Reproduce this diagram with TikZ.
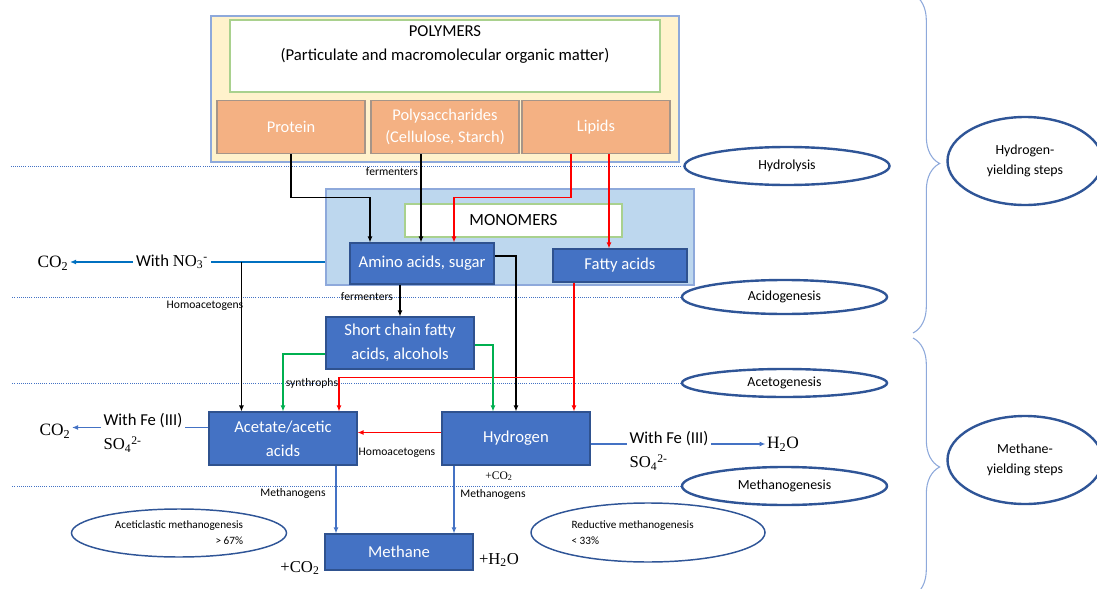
\documentclass[tikz,border=0pt]{standalone}
\usepackage{fontspec}
\setmainfont{Carlito}
\newfontfamily\chemfont{Liberation Serif}
\usetikzlibrary{shapes.geometric,arrows.meta,calc,decorations.pathreplacing}
\definecolor{polyfill}{HTML}{FFF2CC}
\definecolor{edgeblue}{HTML}{8EA9DB}
\definecolor{leafgreen}{HTML}{A9D18E}
\definecolor{tanfill}{HTML}{F4B183}
\definecolor{tanedge}{HTML}{A69588}
\definecolor{monofill}{HTML}{BDD7EE}
\definecolor{procfill}{HTML}{4472C4}
\definecolor{procedge}{HTML}{2F528F}
\definecolor{ovalblue}{HTML}{2F5597}
\definecolor{lineblue}{HTML}{4472C4}
\definecolor{nitroblue}{HTML}{0070C0}
\definecolor{arrred}{HTML}{FF0000}
\definecolor{arrgreen}{HTML}{00B050}
\tikzset{
  polybox/.style   = {draw=edgeblue, fill=polyfill, line width=0.8pt, inner sep=0pt},
  titlebox/.style  = {draw=leafgreen, fill=white, line width=0.8pt, inner sep=0pt},
  tanbox/.style    = {draw=tanedge, fill=tanfill, text=white, line width=0.8pt,
                      font=\fontsize{12.3}{17}\selectfont, align=center, inner sep=0pt,
                      minimum width=111pt, minimum height=39.75pt},
  monobox/.style   = {draw=edgeblue, fill=monofill, line width=0.8pt, inner sep=0pt},
  procbox/.style   = {draw=procedge, fill=procfill, text=white, line width=0.8pt,
                      font=\fontsize{12.5}{18}\selectfont, align=center, inner sep=0pt},
  stagenode/.style = {ellipse, draw=ovalblue, line width=1.8pt, inner sep=0pt,
                      minimum width=153.75pt, font=\fontsize{10.4}{15}\selectfont},
  yieldnode/.style = {stagenode, minimum width=116.25pt, minimum height=66pt, align=center},
  methnode/.style  = {ellipse, draw=ovalblue, line width=1.1pt, inner sep=0pt},
  note/.style      = {font=\fontsize{8.7}{12}\selectfont, inner sep=1pt},
  chem/.style      = {font=\chemfont\fontsize{13}{16}\selectfont, inner sep=1pt},
  withtext/.style  = {font=\fontsize{12.5}{18}\selectfont, align=left, inner sep=2pt},
  guide/.style     = {draw=lineblue, densely dotted, line width=0.6pt},
  stagebrace/.style= {draw=edgeblue, line width=0.8pt, decorate,
                      decoration={brace, amplitude=20pt}},
  tip/.style       = {-{Latex[length=4.5pt,width=3.75pt]}},
  blk/.style       = {tip, draw=black, line width=1.1pt},
  redarr/.style    = {tip, draw=arrred, line width=1.1pt},
  grnarr/.style    = {tip, draw=arrgreen, line width=1.1pt},
  bluarr/.style    = {tip, draw=lineblue, line width=0.9pt},
  bluline/.style   = {draw=lineblue, line width=0.9pt},
  nitro/.style     = {draw=nitroblue, line width=0.9pt}
}

\begin{document}
\begin{tikzpicture}[x=0.75pt,y=-0.75pt]
  \useasboundingbox (0,0) rectangle (1097,589);
  \clip (0,0) rectangle (1097,589);

  % stage ellipses and guide lines
  \node[stagenode, minimum height=28.5pt] (hydrolysis)  at (787,166)   {Hydrolysis};
  \node[stagenode, minimum height=25.5pt] (acidogen)    at (784.5,297) {Acidogenesis};
  \node[stagenode, minimum height=21pt]   (acetogen)    at (784.5,383) {Acetogenesis};
  \node[stagenode, minimum height=28.5pt] (methanogen)  at (784.5,486) {Methanogenesis};
  \draw[guide] (hydrolysis.west) -- ++(-674,0);
  \draw[guide] (acidogen.west) -- ++(-669,0);
  \draw[guide] (acetogen.west) -- ++(-669,0);
  \draw[guide] (methanogen.west) -- ++(-669,0);

  \node[yieldnode] (hyield) at (1025,161) {Hydrogen-\\yielding steps};
  \node[yieldnode] (myield) at (1025,460) {Methane-\\yielding steps};
  \draw[stagebrace] (913,-6) -- (913,333);
  \draw[stagebrace] (913,338) -- (913,596);

  % polymers
  \node[polybox, minimum width=351pt, minimum height=109.5pt] (polyouter) at (445,89) {};
  \node[titlebox, minimum width=322.5pt, minimum height=54pt] (polytitle) at (445,56) {};
  \node[align=center, font=\fontsize{12.5}{18.5}\selectfont] (polyname) at (445,44.5)
    {POLYMERS\\(Particulate and macromolecular organic matter)};
  \node[tanbox] (protein) at (291,127) {Protein};
  \node[tanbox] (polysac) at (445,127) {Polysaccharides\\(Cellulose, Starch)};
  \node[tanbox] (lipids)  at (596,127) {Lipids};

  % monomers
  \node[monobox, minimum width=276pt, minimum height=72pt] (monoouter) at (510,237) {};
  \node[titlebox, minimum width=162.75pt, minimum height=24.75pt,
        font=\fontsize{12.8}{14}\selectfont] (monotitle) at (513.5,220.5) {MONOMERS};
  \node[procbox, minimum width=108pt, minimum height=30.75pt] (amino) at (422,263.5) {Amino acids, sugar};
  \node[procbox, minimum width=100.5pt, minimum height=24.75pt] (fatty) at (620,265.5) {Fatty acids};

  % intermediates and products
  \node[procbox, minimum width=111pt, minimum height=39pt] (shortchain) at (400,343)
    {Short chain fatty\\acids, alcohols};
  \node[procbox, minimum width=111pt, minimum height=39.75pt] (acetate) at (283,438.5)
    {Acetate/acetic\\acids};
  \node[procbox, minimum width=111pt, minimum height=39.75pt] (hydrogen) at (516,438.5) {Hydrogen};
  \node[procbox, minimum width=111pt, minimum height=27pt] (methane) at (399,552) {Methane};

  % side texts
  \node[chem] (co2a) at (53,263) {CO\textsubscript{2}};
  \node[withtext] (withno) at (172,262) {With {\chemfont NO\textsubscript{3}\textsuperscript{-}}};
  \node[chem] (co2b) at (55,431) {CO\textsubscript{2}};
  \node[withtext] (fea) at (143,433) {With Fe (III)\\{\chemfont SO\textsubscript{4}\textsuperscript{2-}}};
  \node[withtext] (feb) at (669,451) {With Fe (III)\\{\chemfont SO\textsubscript{4}\textsuperscript{2-}}};
  \node[chem] (h2o) at (783,444) {H\textsubscript{2}O};
  \node[chem, font=\chemfont\fontsize{12.5}{15}\selectfont] (plusco) at (300,568) {+CO\textsubscript{2}};
  \node[chem, font=\chemfont\fontsize{12.5}{15}\selectfont] (plusho) at (499,560) {+H\textsubscript{2}O};

  % step notes
  \node[note] (fermA)  at (392,172) {fermenters};
  \node[note] (fermB)  at (367,297) {fermenters};
  \node[note] (homoA)  at (205,306) {Homoacetogens};
  \node[note] (syntro) at (312,383) {synthrophs};
  \node[note] (homoB)  at (397,453) {Homoacetogens};
  \node[note] (methA)  at (293,493) {Methanogens};
  \node[note] (methB)  at (493,494) {Methanogens};
  \node[note, font=\chemfont\fontsize{8.7}{10}\selectfont] (hco) at (499,476) {+CO\textsubscript{2}};

  % methanogenesis routes
  \node[methnode, minimum width=161.25pt, minimum height=36pt, align=right,
        font=\fontsize{8.4}{12}\selectfont] (aceticl) at (179,533)
    {Aceticlastic methanogenesis\\> 67\%};
  \node[methnode, minimum width=175.5pt, minimum height=44.25pt] (reductive) at (648,532.5) {};
  \node[note, align=left, anchor=west, font=\fontsize{8.4}{12}\selectfont] (reductxt) at (570,533)
    {Reductive methanogenesis\\< 33\%};

  % hydrolysis
  \draw[blk] (protein.south) |- ($(amino.north)+(-52,-45)$) -- ($(amino.north)+(-52,0)$);
  \draw[blk] ($(polysac.south)+(-24,0)$) coordinate (ps) -- (ps |- amino.north);
  \draw[redarr] ($(lipids.south)+(-25,0)$) |- ($(amino.north)+(32,-45)$) -- ($(amino.north)+(32,0)$);
  \draw[redarr] ($(lipids.south)+(13,0)$) coordinate (lp) -- (lp |- fatty.north);

  % acidogenesis and acetogenesis
  \draw[blk] (shortchain.north |- amino.south) -- (shortchain.north);
  \draw[blk] ($(amino.east)+(0,-7.5)$) -| (hydrogen.north);
  \draw[redarr] ($(fatty.south)+(-46,0)$) coordinate (fa) -- (fa |- hydrogen.north);
  \draw[redarr] ($(fa)+(0,95)$) -| ($(acetate.north)+(56,0)$);
  \draw[grnarr] ($(shortchain.west)+(0,11)$) -| (acetate.north);
  \draw[grnarr] ($(shortchain.east)+(0,2)$) -| ($(hydrogen.north)+(-23,0)$);
  \draw[redarr] ($(hydrogen.west)+(0,-6)$) coordinate (hw) -- (hw -| acetate.east);

  % side reactions
  \draw[nitro] ($(monoouter.west)+(0,25)$) coordinate (nw) -- (nw -| withno.east);
  \draw[nitro, tip] (nw -| withno.west) -- (nw -| co2a.east);
  \draw[blk] ($(nw)+(-84,0)$) coordinate (ha) -- (ha |- acetate.north);
  \draw[bluline] ($(acetate.west)+(0,-11)$) coordinate (aw) -- (aw -| fea.east);
  \draw[bluarr] (aw -| fea.west) -- (aw -| co2b.east);
  \draw[bluline] ($(hydrogen.east)+(0,5.5)$) coordinate (he) -- (he -| feb.west);
  \draw[bluarr] (he -| feb.east) -- (he -| h2o.west);

  % methanogenesis
  \draw[bluarr] ($(acetate.south)+(53,0)$) coordinate (ac) -- (ac |- methane.north);
  \draw[bluarr] ($(hydrogen.south)+(-62,0)$) coordinate (hy) -- (hy |- methane.north);
\end{tikzpicture}
\end{document}
